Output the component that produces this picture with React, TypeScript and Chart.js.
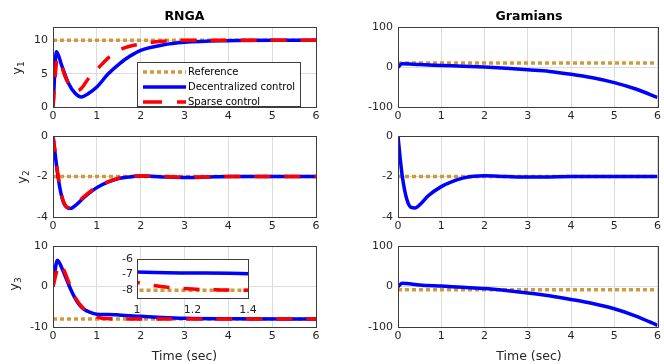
import React, { useEffect, useRef } from 'react';
import { Chart, registerables } from 'chart.js';

Chart.register(...registerables);

const W = 664;
const H = 364;
const FONT = '"DejaVu Sans", sans-serif';
const GOLD = '#CF9A3C';
const BLUE = '#0000FF';
const RED = '#FF0000';
const GRID = '#dcdcdc';
const TICK = '#262626';
const BOX = '#3c3c3c';
const Y_AXIS_W = 40;
const X_AXIS_H = 17;

// ---------- text ----------
const seriesNames = ['Reference', 'Decentralized control', 'Sparse control'];
const panelTitles = ['RNGA', 'Gramians'];
const xAxisTitle = 'Time (sec)';
const yLabelSubs = ['1', '2', '3'];

// ---------- ticks ----------
const timeTicks = [0, 1, 2, 3, 4, 5, 6];
const y1Ticks = [0, 5, 10];
const g1Ticks = [-100, 0, 100];
const y2Ticks = [-4, -2, 0];
const y3Ticks = [-10, 0, 10];
const g3Ticks = [-100, 0, 100];
const insetXTicks = [1, 1.2, 1.4];
const insetYTicks = [-8, -7, -6];

// ---------- reference values ----------
const refTime = [0, 6];
const refY1 = 10;
const refY2 = -2;
const refY3 = -8;

// ---------- y1 RNGA ----------
const rY1DecT = [0, 0.08, 0.2, 0.35, 0.5, 0.65, 0.8, 1.0, 1.25, 1.5, 1.75, 2.0, 2.5, 3, 4, 5, 6];
const rY1DecV = [0, 8.3, 6.2, 3.6, 2.1, 1.5, 2.0, 3.0, 4.9, 6.4, 7.6, 8.5, 9.3, 9.7, 9.95, 10, 10];
const rY1SpT = [0, 0.1, 0.2, 0.3, 0.45, 0.55, 0.65, 0.8, 1.0, 1.3, 1.6, 2.0, 2.5, 3, 4, 6];
const rY1SpV = [0, 7.3, 6.0, 4.2, 2.7, 2.45, 2.8, 4.2, 5.6, 7.6, 8.8, 9.45, 9.85, 10, 10, 10];

// ---------- y1 Gramians ----------
const gY1T = [0, 0.1, 0.5, 1, 1.5, 2, 2.5, 3, 3.5, 4, 4.5, 5, 5.5, 6];
const gY1V = [0, 8, 6, 4, 2, 0, -3, -7, -11, -18, -27, -39, -55, -76];

// ---------- y2 RNGA ----------
const rY2T = [0, 0.05, 0.1, 0.2, 0.3, 0.4, 0.5, 0.7, 1.0, 1.25, 1.5, 1.75, 2.0, 2.5, 3.0, 3.5, 4, 5, 6];
const rY2DecV = [0, -0.9, -1.8, -3.0, -3.5, -3.58, -3.45, -3.05, -2.55, -2.28, -2.1, -2.02, -1.98, -2.02, -2.05, -2.03, -2.0, -2.0, -2.0];
const rY2SpV = [0, -0.8, -1.7, -2.95, -3.48, -3.55, -3.42, -3.0, -2.52, -2.26, -2.08, -2.0, -1.97, -2.0, -2.04, -2.02, -2.0, -2.0, -2.0];

// ---------- y2 Gramians ----------
const gY2T = [0, 0.05, 0.1, 0.2, 0.3, 0.4, 0.5, 0.7, 1.0, 1.25, 1.5, 1.75, 2.0, 2.5, 3, 3.5, 4, 5, 6];
const gY2V = [0, -1.1, -2.0, -3.1, -3.52, -3.55, -3.4, -2.95, -2.5, -2.25, -2.08, -1.99, -1.96, -2.0, -2.03, -2.02, -2.0, -2.0, -2.0];

// ---------- y3 RNGA ----------
const rY3DecT = [0, 0.1, 0.2, 0.3, 0.4, 0.5, 0.6, 0.7, 0.85, 1.0, 1.2, 1.4, 1.5, 2.0, 2.5, 3.0, 4.0, 6.0];
const rY3DecV = [0, 6.5, 4.6, 2.0, -0.6, -2.8, -4.5, -5.6, -6.4, -6.84, -6.9, -6.95, -7.05, -7.35, -7.65, -7.85, -7.97, -8.0];
const rY3SpT = [0, 0.15, 0.25, 0.35, 0.5, 0.7, 0.85, 1.0, 1.06, 1.12, 1.2, 1.3, 1.4, 2, 6];
const rY3SpV = [0, 5.5, 4.0, 1.3, -2.6, -5.5, -6.8, -7.5, -7.7, -7.83, -7.93, -7.98, -8.0, -8.0, -8.0];

// ---------- y3 Gramians ----------
const gY3T = [0, 0.1, 0.5, 1, 1.5, 2, 2.5, 3, 3.5, 4, 4.5, 5, 5.5, 6];
const gY3V = [0, 8, 4, 1, -2, -5, -10, -16, -23, -32, -42, -55, -73, -96];

const pts = (t: number[], v: number[]) => t.map((x, i) => ({ x, y: v[i] }));

const refDs = (v: number) => ({
  data: refTime.map((x) => ({ x, y: v })),
  borderColor: GOLD,
  borderWidth: 3.5,
  borderDash: [4, 3],
  borderCapStyle: 'butt',
  pointRadius: 0,
  tension: 0,
  order: 3,
});
const blueDs = (t: number[], v: number[]) => ({
  data: pts(t, v),
  borderColor: BLUE,
  borderWidth: 3.5,
  pointRadius: 0,
  cubicInterpolationMode: 'monotone',
  order: 2,
});
const redDs = (t: number[], v: number[]) => ({
  data: pts(t, v),
  borderColor: RED,
  borderWidth: 3.5,
  borderDash: [16, 14],
  borderCapStyle: 'butt',
  pointRadius: 0,
  cubicInterpolationMode: 'monotone',
  order: 1,
});

function drawYLabel(ctx: CanvasRenderingContext2D, x: number, y: number, main: string, sub: string) {
  ctx.save();
  ctx.translate(x, y);
  ctx.rotate(-Math.PI / 2);
  ctx.fillStyle = TICK;
  ctx.textBaseline = 'alphabetic';
  ctx.textAlign = 'left';
  ctx.font = `13px ${FONT}`;
  const w1 = ctx.measureText(main).width;
  ctx.font = `9px ${FONT}`;
  const w2 = ctx.measureText(sub).width;
  const sx = -(w1 + w2) / 2;
  ctx.font = `13px ${FONT}`;
  ctx.fillText(main, sx, 3);
  ctx.font = `9px ${FONT}`;
  ctx.fillText(sub, sx + w1, 6);
  ctx.restore();
}

function drawLegend(ctx: CanvasRenderingContext2D) {
  const x0 = 137, y0 = 62, x1 = 300, y1 = 106;
  ctx.save();
  ctx.fillStyle = '#fff';
  ctx.fillRect(x0, y0, x1 - x0, y1 - y0);
  ctx.strokeStyle = BOX;
  ctx.lineWidth = 1;
  ctx.strokeRect(x0 + 0.5, y0 + 0.5, x1 - x0, y1 - y0);
  const styles = [
    { color: GOLD, dash: [4, 3] },
    { color: BLUE, dash: [] as number[] },
    { color: RED, dash: [19, 15] },
  ];
  const rows = [72, 87, 102];
  seriesNames.forEach((name, i) => {
    ctx.beginPath();
    ctx.setLineDash(styles[i].dash);
    ctx.lineCap = 'butt';
    ctx.strokeStyle = styles[i].color;
    ctx.lineWidth = 3.5;
    ctx.moveTo(143, rows[i]);
    ctx.lineTo(186, rows[i]);
    ctx.stroke();
    ctx.setLineDash([]);
    ctx.fillStyle = '#000';
    ctx.font = `10px ${FONT}`;
    ctx.textAlign = 'left';
    ctx.textBaseline = 'middle';
    ctx.fillText(name, 188, rows[i]);
  });
  ctx.restore();
}

const decorPlugin = {
  id: 'decor',
  beforeDraw(chart: any, _a: any, opts: any) {
    if (opts && opts.bg) {
      const a = chart.chartArea;
      chart.ctx.save();
      chart.ctx.fillStyle = '#fff';
      chart.ctx.fillRect(a.left, a.top, a.right - a.left, a.bottom - a.top);
      chart.ctx.restore();
    }
  },
  afterDraw(chart: any, _a: any, opts: any) {
    const ctx: CanvasRenderingContext2D = chart.ctx;
    const a = chart.chartArea;
    ctx.save();
    ctx.strokeStyle = BOX;
    ctx.lineWidth = 1;
    ctx.setLineDash([]);
    ctx.strokeRect(Math.round(a.left) + 0.5, Math.round(a.top) + 0.5, Math.round(a.right - a.left), Math.round(a.bottom - a.top));
    (opts.texts || []).forEach((t: any) => {
      ctx.fillStyle = t.color || TICK;
      ctx.font = t.font;
      ctx.textAlign = 'center';
      ctx.textBaseline = 'middle';
      ctx.fillText(t.text, t.x, t.y);
    });
    if (opts.ylabel) drawYLabel(ctx, opts.ylabel.x, opts.ylabel.y, 'y', opts.ylabel.sub);
    ctx.restore();
    if (opts.legend) drawLegend(ctx);
  },
};

interface Panel {
  l: number; r: number; t: number; b: number;
  xMin: number; xMax: number; xTicks: number[];
  yMin: number; yMax: number; yTicks: number[];
  datasets: any[];
  grid?: boolean;
  xPad?: number; yPad?: number;
  decor?: any;
}

function panelConfig(p: Panel): any {
  const grid = p.grid !== false;
  const tickFont = { family: FONT, size: 11 };
  return {
    type: 'line',
    data: { datasets: p.datasets },
    options: {
      responsive: false,
      animation: false,
      events: [],
      layout: { padding: { left: p.l - Y_AXIS_W, right: W - p.r, top: p.t, bottom: H - p.b - X_AXIS_H } },
      plugins: {
        legend: { display: false },
        tooltip: { enabled: false },
        title: { display: false },
        decor: p.decor || {},
      },
      scales: {
        x: {
          type: 'linear',
          min: p.xMin,
          max: p.xMax,
          afterBuildTicks: (s: any) => { s.ticks = p.xTicks.map((v) => ({ value: v })); },
          afterFit: (s: any) => { s.height = X_AXIS_H; },
          grid: { display: grid, color: GRID, lineWidth: 1, drawTicks: false },
          border: { display: false },
          ticks: {
            padding: p.xPad ?? 3,
            color: TICK,
            font: tickFont,
            maxRotation: 0,
            autoSkip: false,
            callback: (v: any) => String(v),
          },
        },
        y: {
          type: 'linear',
          min: p.yMin,
          max: p.yMax,
          afterBuildTicks: (s: any) => { s.ticks = p.yTicks.map((v) => ({ value: v })); },
          afterFit: (s: any) => { s.width = Y_AXIS_W; },
          grid: { display: grid, color: GRID, lineWidth: 1, drawTicks: false },
          border: { display: false },
          ticks: {
            padding: p.yPad ?? 5,
            color: TICK,
            font: tickFont,
            autoSkip: false,
            callback: (v: any) => String(v),
          },
        },
      },
    },
    plugins: [decorPlugin],
  };
}

function buildConfigs(): any[] {
  const L = { l: 53, r: 316 };
  const R = { l: 398, r: 660 };
  const rows = [{ t: 27, b: 107 }, { t: 136, b: 217 }, { t: 246, b: 327 }];
  const xs = { xMin: 0, xMax: 6, xTicks: timeTicks };
  const titleFont = `bold 12.5px ${FONT}`;
  const xtFont = `12.5px ${FONT}`;
  return [
    panelConfig({
      ...L, ...rows[0], ...xs, yMin: 0, yMax: 12, yTicks: y1Ticks,
      datasets: [refDs(refY1), blueDs(rY1DecT, rY1DecV), redDs(rY1SpT, rY1SpV)],
      decor: { texts: [{ text: panelTitles[0], x: 184.5, y: 17, font: titleFont, color: '#000' }], ylabel: { x: 18, y: 68, sub: yLabelSubs[0] }, legend: true },
    }),
    panelConfig({
      ...R, ...rows[0], ...xs, yMin: -100, yMax: 100, yTicks: g1Ticks,
      datasets: [refDs(refY1), blueDs(gY1T, gY1V)],
      decor: { texts: [{ text: panelTitles[1], x: 529, y: 17, font: titleFont, color: '#000' }] },
    }),
    panelConfig({
      ...L, ...rows[1], ...xs, yMin: -4, yMax: 0, yTicks: y2Ticks,
      datasets: [refDs(refY2), blueDs(rY2T, rY2DecV), redDs(rY2T, rY2SpV)],
      decor: { ylabel: { x: 23, y: 177, sub: yLabelSubs[1] } },
    }),
    panelConfig({
      ...R, ...rows[1], ...xs, yMin: -4, yMax: 0, yTicks: y2Ticks,
      datasets: [refDs(refY2), blueDs(gY2T, gY2V)],
      decor: {},
    }),
    panelConfig({
      ...L, ...rows[2], ...xs, yMin: -10, yMax: 10, yTicks: y3Ticks,
      datasets: [refDs(refY3), blueDs(rY3DecT, rY3DecV), redDs(rY3SpT, rY3SpV)],
      decor: { texts: [{ text: xAxisTitle, x: 184.5, y: 357, font: xtFont }], ylabel: { x: 15, y: 284, sub: yLabelSubs[2] } },
    }),
    panelConfig({
      ...R, ...rows[2], ...xs, yMin: -100, yMax: 100, yTicks: g3Ticks,
      datasets: [refDs(refY3), blueDs(gY3T, gY3V)],
      decor: { texts: [{ text: xAxisTitle, x: 529, y: 357, font: xtFont }] },
    }),
    panelConfig({
      l: 137, r: 248, t: 259, b: 298,
      xMin: 1, xMax: 1.4, xTicks: insetXTicks,
      yMin: -8.5, yMax: -6, yTicks: insetYTicks,
      datasets: [refDs(refY3), blueDs(rY3DecT, rY3DecV), redDs(rY3SpT, rY3SpV)],
      grid: false, xPad: 6, yPad: 4,
      decor: { bg: true },
    }),
  ];
}

export default function App() {
  const refs = useRef<(HTMLCanvasElement | null)[]>([]);
  useEffect(() => {
    const configs = buildConfigs();
    const charts = configs.map((cfg, i) => new Chart(refs.current[i] as HTMLCanvasElement, cfg));
    return () => charts.forEach((c) => c.destroy());
  }, []);
  return (
    <div style={{ position: 'fixed', left: 0, top: 0, width: W, height: H, background: '#fff', overflow: 'hidden' }}>
      {Array.from({ length: 7 }).map((_, i) => (
        <canvas
          key={i}
          ref={(el) => { refs.current[i] = el; }}
          width={W}
          height={H}
          style={{ position: 'absolute', left: 0, top: 0, width: W, height: H }}
        />
      ))}
    </div>
  );
}
